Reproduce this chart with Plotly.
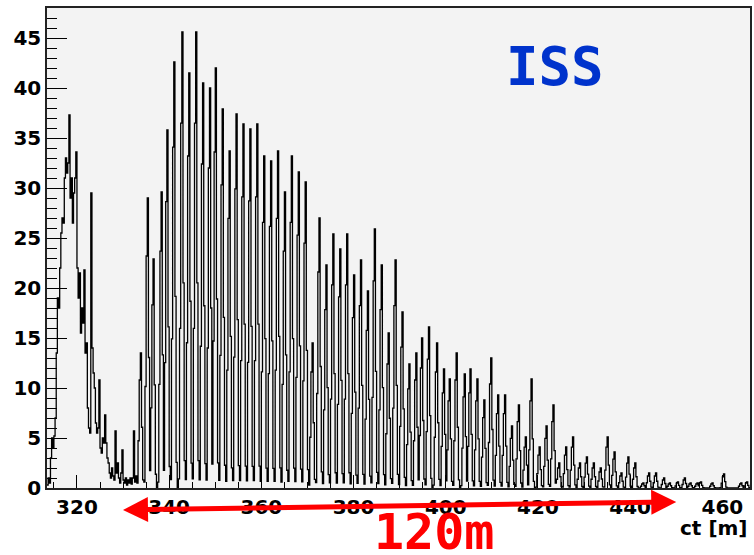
import numpy as np
import plotly.graph_objects as go

# ct binning of the histogram
BIN_W = 0.25
CT_MIN, CT_MAX = 313.5, 466.0

# prompt region, counts per 0.25 m bin starting at ct = 313.5
prompt_counts = [
    0.3, 1.0, 0.5, 3.0, 5.0, 4.0, 5.2, 7.0, 13.5, 19.0,
    18.0, 22.0, 25.5, 27.0, 26.5, 31.0, 33.0, 31.5, 32.5, 37.3,
    29.0, 31.0, 26.5, 29.5, 31.0, 33.6, 22.0, 19.0, 21.5, 15.5,
    18.0, 16.5, 21.8, 13.5, 14.5, 8.0, 6.0, 5.5, 29.5, 14.0,
    11.5, 10.0, 6.5, 5.5, 6.0, 10.8, 4.0, 3.5, 5.0, 4.5,
    7.3, 4.5, 3.0, 2.5, 1.5, 1.0, 2.0, 1.2, 0.8, 5.7,
    1.5, 2.5, 1.0, 0.5, 1.5, 3.8, 0.8, 0.5, 1.0, 0.3,
    0.8, 0.5, 1.0, 0.4, 1.0, 5.7, 0.6, 1.2, 0.5, 0.8,
]

# bunch train: centre of each bunch [m] and its peak count
bunch_ct = [
    333.9, 335.3, 336.7, 338.3, 339.7, 341.2, 342.8, 344.3, 345.8, 347.3,
    348.8, 350.2, 351.7, 353.1, 354.7, 356.2, 357.7, 359.2, 360.7, 362.1,
    363.7, 365.2, 366.7, 368.1, 369.7, 371.1, 372.6, 374.0, 375.5, 377.1,
    378.6, 380.0, 381.6, 383.0, 384.6, 386.1, 387.6, 389.0, 390.5, 392.1,
    393.5, 394.9, 396.4, 398.0, 399.5, 400.9, 402.4, 404.0, 405.4, 406.8,
    408.4, 409.9, 411.4, 412.8, 414.4, 415.9, 417.3, 418.7, 420.3, 421.8,
    423.3, 424.7, 426.2, 427.6, 429.2, 430.7, 432.2, 433.6, 435.1, 436.6,
    438.1, 439.7, 441.1, 442.8, 444.2, 445.6, 447.4, 448.7, 450.3, 451.9,
    453.2, 454.6, 455.4, 457.9, 460.4, 464.1, 465.3,
]
bunch_peak = [
    13.5, 29.0, 22.9, 29.6, 35.8, 42.6, 45.6, 41.5, 45.6, 40.5,
    40.0, 42.0, 37.9, 33.7, 37.4, 36.4, 35.9, 36.4, 33.2, 32.7,
    33.7, 29.6, 33.2, 31.6, 30.6, 14.5, 27.0, 22.3, 25.4, 23.9,
    25.4, 21.3, 22.8, 19.7, 25.9, 22.3, 15.5, 22.8, 17.6, 12.4,
    13.5, 15.0, 16.1, 14.5, 11.9, 10.9, 13.5, 11.4, 11.9, 10.9,
    8.8, 13.0, 9.3, 9.3, 6.2, 8.3, 5.1, 10.9, 4.1, 6.2,
    8.3, 2.5, 4.1, 5.1, 2.5, 3.1, 2.5, 2.0, 5.1, 3.6,
    1.5, 3.1, 2.5, 0.5, 1.5, 1.5, 1.0, 0.5, 0.6, 1.0,
    0.5, 0.5, 0.6, 0.5, 1.4, 0.5, 0.6,
]

# relative profile of one bunch over its bins (offsets -3 .. +2)
bunch_offsets = [-3, -2, -1, 0, 1, 2]
bunch_shape = [0.02, 0.35, 0.8, 1.0, 0.45, 0.06]

# 120 m span marked under the axis
SPAN_START, SPAN_END = 330.0, 450.0

# fill the histogram bins
n_bins = int(round((CT_MAX - CT_MIN) / BIN_W))
counts = np.zeros(n_bins)
counts[:len(prompt_counts)] = prompt_counts
for c, peak in zip(bunch_ct, bunch_peak):
    i0 = int((c - CT_MIN) / BIN_W)
    for off, frac in zip(bunch_offsets, bunch_shape):
        j = i0 + off
        if 0 <= j < n_bins:
            counts[j] = max(counts[j], peak * frac)

edges = CT_MIN + BIN_W * np.arange(n_bins + 1)
x_step = np.concatenate([edges[:-1], [edges[-1]]])
y_step = np.concatenate([counts, [counts[-1]]])

fig = go.Figure()
fig.add_trace(go.Scatter(
    x=x_step, y=y_step, mode="lines",
    line=dict(shape="hv", color="black", width=1.3),
    hoverinfo="skip", showlegend=False,
))

tick_font = dict(family="DejaVu Sans", size=20, color="black", weight="bold")

fig.update_layout(
    width=754, height=555,
    margin=dict(l=47, r=2, t=8, b=67),
    paper_bgcolor="white",
    plot_bgcolor="#f3f3f3",
    showlegend=False,
    xaxis=dict(
        range=[CT_MIN, CT_MAX], tick0=320, dtick=20,
        ticks="inside", ticklen=13, tickwidth=1.2, tickcolor="black",
        minor=dict(dtick=5, ticks="inside", ticklen=6, tickcolor="black"),
        showgrid=False, zeroline=False,
        showline=True, linecolor="#222", linewidth=1.5, mirror=True,
        tickfont=tick_font,
    ),
    yaxis=dict(
        range=[0, 48], tick0=0, dtick=5,
        ticks="inside", ticklen=20, tickwidth=1.2, tickcolor="black",
        minor=dict(dtick=1, ticks="inside", ticklen=10, tickcolor="black"),
        showgrid=False, zeroline=False,
        showline=True, linecolor="#222", linewidth=1.5, mirror=True,
        tickfont=tick_font,
    ),
)

# axis title
fig.add_annotation(
    x=1.0, y=-0.084, xref="paper", yref="paper",
    xanchor="right", yanchor="middle", showarrow=False,
    text="<b>ct [m]</b>",
    font=dict(family="DejaVu Sans", size=20, color="black"),
)

# run label
fig.add_annotation(
    x=0.723, y=0.879, xref="paper", yref="paper",
    xanchor="center", yanchor="middle", showarrow=False,
    text="<b>ISS</b>",
    font=dict(family="DejaVu Sans Mono", size=54, color="#0033cc"),
)

# double-headed arrow across the 120 m span, slightly tilted, below the axis
plot_w = 754 - 47 - 2
px_per_m = plot_w / (CT_MAX - CT_MIN)
span_px = (SPAN_END - SPAN_START) * px_per_m
fig.add_annotation(
    x=(SPAN_END - CT_MIN) / (CT_MAX - CT_MIN), y=-0.029,
    xref="paper", yref="paper",
    ax=-span_px, ay=8, axref="pixel", ayref="pixel",
    showarrow=True, arrowside="end+start",
    arrowhead=2, startarrowhead=2,
    arrowsize=1.0, startarrowsize=1.0,
    arrowwidth=5, arrowcolor="#ff0000", text="",
)
fig.add_annotation(
    x=0.55, y=-0.092, xref="paper", yref="paper",
    xanchor="center", yanchor="middle", showarrow=False,
    text="<b>120m</b>",
    font=dict(family="DejaVu Sans Mono", size=50, color="#ff0000"),
)

fig.write_html("out.html")
